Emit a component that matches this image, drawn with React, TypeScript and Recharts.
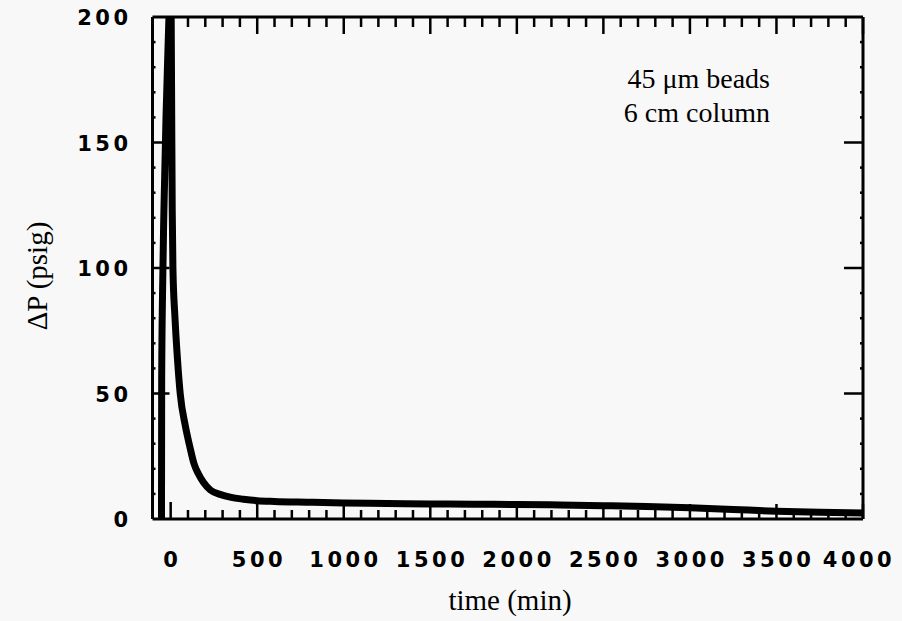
import React from 'react';
import { LineChart, Line, XAxis, YAxis } from 'recharts';

// time (min)
const times = [
  -53, -52, -47, -39, -27, -10, 0, 3, 6, 9, 13, 25, 40, 55, 85, 110, 135, 160, 190, 230, 285, 350,
  420, 500, 600, 800, 1000, 1250, 1500, 1750, 2000, 2250, 2500, 2750, 3000, 3250, 3500, 3750, 4000,
];
// ΔP (psig)
const pressures = [
  0, 55, 90, 123, 160, 200, 225, 200, 160, 123, 100, 80, 63, 50, 37, 29, 22, 18, 14.5, 11.5, 9.8, 8.6,
  7.9, 7.3, 7.0, 6.7, 6.4, 6.2, 6.0, 5.9, 5.8, 5.6, 5.3, 5.0, 4.5, 3.8, 3.1, 2.7, 2.4,
];

const xLabelTicks = [0, 500, 1000, 1500, 2000, 2500, 3000, 3500, 4000];
const xAllTicks = Array.from({ length: 41 }, (_, i) => i * 100);
const yLabelTicks = [0, 50, 100, 150, 200];
const yAllTicks = Array.from({ length: 21 }, (_, i) => i * 10);

const xDomain: [number, number] = [-105, 4000];
const yDomain: [number, number] = [0, 200];

const data = times.map((t, i) => ({ t, p: pressures[i] }));

const TICK_FONT = {
  fontFamily: '"DejaVu Sans", sans-serif',
  fontWeight: 'bold' as const,
  fontSize: 21,
  letterSpacing: 3.5,
  fill: '#000',
};
const SERIF = '"Liberation Serif", "Times New Roman", serif';

const BottomTick = (props: any) => {
  const { x, y, payload } = props;
  const v = payload.value as number;
  const major = xLabelTicks.includes(v);
  const len = v === 0 ? 17 : major ? 15 : 9;
  const shift = v === 4000 ? -4 : 1.75;
  return (
    <g>
      <line x1={x} y1={y} x2={x} y2={y - len} stroke="#000" strokeWidth={2.5} />
      {major && (
        <text x={x + shift} y={y + 48} textAnchor="middle" {...TICK_FONT}>
          {v}
        </text>
      )}
    </g>
  );
};

const TopTick = (props: any) => {
  const { x, y, payload } = props;
  const v = payload.value as number;
  const major = xLabelTicks.includes(v);
  const len = major ? 17 : 10;
  return <line x1={x} y1={y} x2={x} y2={y + len} stroke="#000" strokeWidth={2.5} />;
};

const LeftTick = (props: any) => {
  const { x, y, payload } = props;
  const v = payload.value as number;
  const labeled = yLabelTicks.includes(v);
  const len = v === 0 || v === 200 ? 0 : labeled ? 17 : 3;
  return (
    <g>
      {len > 0 && <line x1={x} y1={y} x2={x + len} y2={y} stroke="#000" strokeWidth={2.5} />}
      {labeled && (
        <text x={x - 21} y={y + 8} textAnchor="end" {...TICK_FONT}>
          {v}
        </text>
      )}
    </g>
  );
};

const RightTick = (props: any) => {
  const { x, y, payload } = props;
  const v = payload.value as number;
  const labeled = yLabelTicks.includes(v);
  const len = v === 0 || v === 200 ? 0 : labeled ? 19 : 3;
  if (len === 0) return <g />;
  return <line x1={x} y1={y} x2={x - len} y2={y} stroke="#000" strokeWidth={2.5} />;
};

export default function App() {
  return (
    <div style={{ position: 'absolute', left: 0, top: 0, width: 902, height: 621, background: '#f8f8f8' }}>
      <LineChart width={902} height={621} data={data} margin={{ top: 0, right: 0, bottom: 0, left: 0 }}>
        <XAxis
          xAxisId="top"
          orientation="top"
          dataKey="t"
          type="number"
          domain={xDomain}
          allowDataOverflow
          ticks={xAllTicks}
          interval={0}
          height={17}
          tickSize={0}
          tickMargin={0}
          tickLine={false}
          tick={<TopTick />}
          axisLine={{ stroke: '#000', strokeWidth: 3 }}
        />
        <XAxis
          xAxisId="bottom"
          orientation="bottom"
          dataKey="t"
          type="number"
          domain={xDomain}
          allowDataOverflow
          ticks={xAllTicks}
          interval={0}
          height={102}
          tickSize={0}
          tickMargin={0}
          tickLine={false}
          tick={<BottomTick />}
          axisLine={{ stroke: '#000', strokeWidth: 3 }}
          label={{
            content: () => (
              <text x={510} y={610} textAnchor="middle" fontFamily={SERIF} fontSize={29} fill="#000">
                time (min)
              </text>
            ),
          }}
        />
        <YAxis
          yAxisId="left"
          orientation="left"
          type="number"
          domain={yDomain}
          allowDataOverflow
          ticks={yAllTicks}
          interval={0}
          width={152.5}
          tickSize={0}
          tickMargin={0}
          tickLine={false}
          tick={<LeftTick />}
          axisLine={{ stroke: '#000', strokeWidth: 3 }}
          label={{
            content: () => (
              <text
                x={37}
                y={276}
                transform="rotate(-90 37 276)"
                textAnchor="middle"
                dominantBaseline="central"
                fontFamily={SERIF}
                fontSize={29}
                fill="#000"
              >
                ΔP (psig)
              </text>
            ),
          }}
        />
        <YAxis
          yAxisId="right"
          orientation="right"
          type="number"
          domain={yDomain}
          allowDataOverflow
          ticks={yAllTicks}
          interval={0}
          width={39}
          tickSize={0}
          tickMargin={0}
          tickLine={false}
          tick={<RightTick />}
          axisLine={{ stroke: '#000', strokeWidth: 3 }}
        />
        <Line
          xAxisId="bottom"
          yAxisId="left"
          dataKey="p"
          type="monotone"
          stroke="#000"
          strokeWidth={7}
          dot={false}
          isAnimationActive={false}
        />
      </LineChart>
      <svg
        width={902}
        height={621}
        style={{ position: 'absolute', left: 0, top: 0, pointerEvents: 'none' }}
      >
        <text x={770} y={88} textAnchor="end" fontFamily={SERIF} fontSize={28} fill="#000">
          45 μm beads
        </text>
        <text x={770} y={122} textAnchor="end" fontFamily={SERIF} fontSize={28} fill="#000">
          6 cm column
        </text>
      </svg>
    </div>
  );
}
